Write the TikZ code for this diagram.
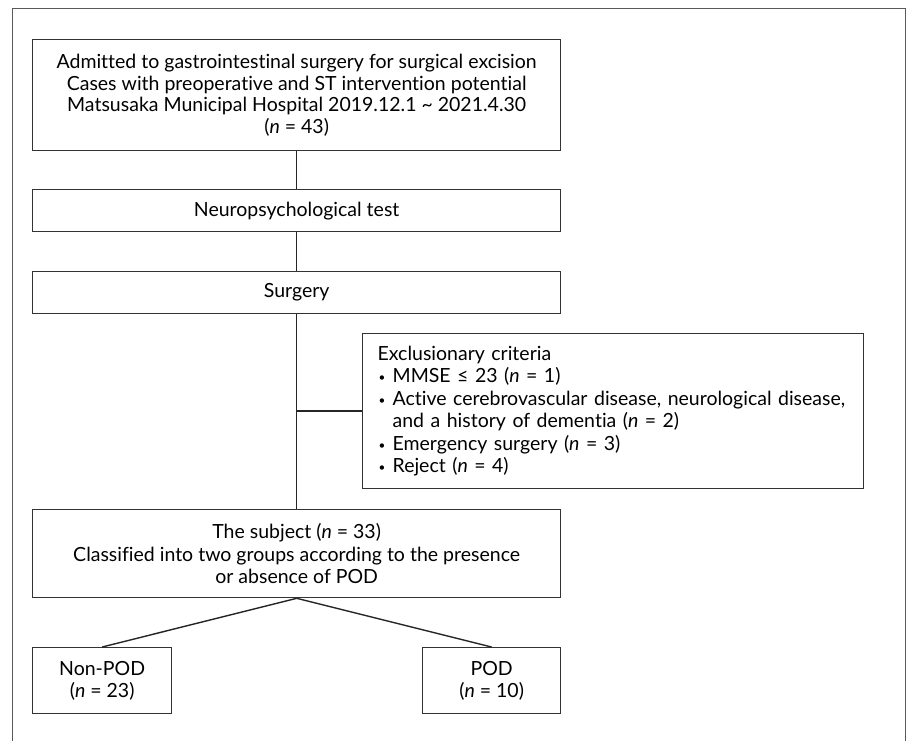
\documentclass[tikz,border=0pt]{standalone}
\usepackage{fontspec}
\setmainfont{Lato}[Ligatures=NoCommon]
\newcommand\bul{\makebox[15pt][l]{\hspace{1pt}\raisebox{1pt}{\scalebox{0.6}{•}}}}
\begin{document}
\begin{tikzpicture}[x=1pt,y=-1pt,
  box/.style={draw=black!80, line width=1.3pt, inner sep=0pt, align=center, anchor=north west,
    font=\fontsize{19.5}{22.5}\selectfont},
  conn/.style={draw=black!85, line width=1.4pt},
  frame/.style={draw=black!65, line width=1pt}]
\useasboundingbox[fill=white] (0,0) rectangle (912,740);
\draw[frame] (12,742) -- (12,8) -- (905,8) -- (905,742);
\node[box, minimum width=528pt, minimum height=111pt, font=\fontsize{19.5}{21.5}\selectfont] (b1) at (32,39)
 {Admitted to gastrointestinal surgery for surgical excision\\
  Cases with preoperative and ST intervention potential\\
  Matsusaka Municipal Hospital 2019.12.1 \textasciitilde{} 2021.4.30\\
  (\textit{n} = 43)};
\node[box, minimum width=528pt, minimum height=42pt] (nt) at (32,189) {Neuropsychological test};
\node[box, minimum width=528pt, minimum height=42pt] (surg) at (32,271) {Surgery};
\node[box, align=left, text width=471pt, inner xsep=15pt, minimum height=155pt] (excl) at (362,333)
 {Exclusionary criteria\\
  \bul MMSE ≤ 23 (\textit{n} = 1)\\
  \bul Active cerebrovascular disease, neurological disease,\\
  \hspace*{15pt}and a history of dementia (\textit{n} = 2)\\
  \bul Emergency surgery (\textit{n} = 3)\\
  \bul Reject (\textit{n} = 4)};
\node[box, minimum width=528pt, minimum height=88pt] (subj) at (32,509)
 {The subject (\textit{n} = 33)\\
  Classified into two groups according to the presence\\
  or absence of POD};
\node[box, minimum width=139pt, minimum height=66pt] (nonpod) at (32,647)
 {Non-POD\\(\textit{n} = 23)};
\node[box, minimum width=138pt, minimum height=66pt] (pod) at (422,647)
 {POD\\(\textit{n} = 10)};
\draw[conn] (b1.south) -- (nt.north);
\draw[conn] (nt.south) -- (surg.north);
\draw[conn] (surg.south) -- (subj.north);
\coordinate (j) at (surg.south |- excl.west);
\draw[conn] (j) -- (excl.west);
\draw[conn] (subj.south) -- (nonpod.north);
\draw[conn] (subj.south) -- (pod.north);
\end{tikzpicture}
\end{document}
